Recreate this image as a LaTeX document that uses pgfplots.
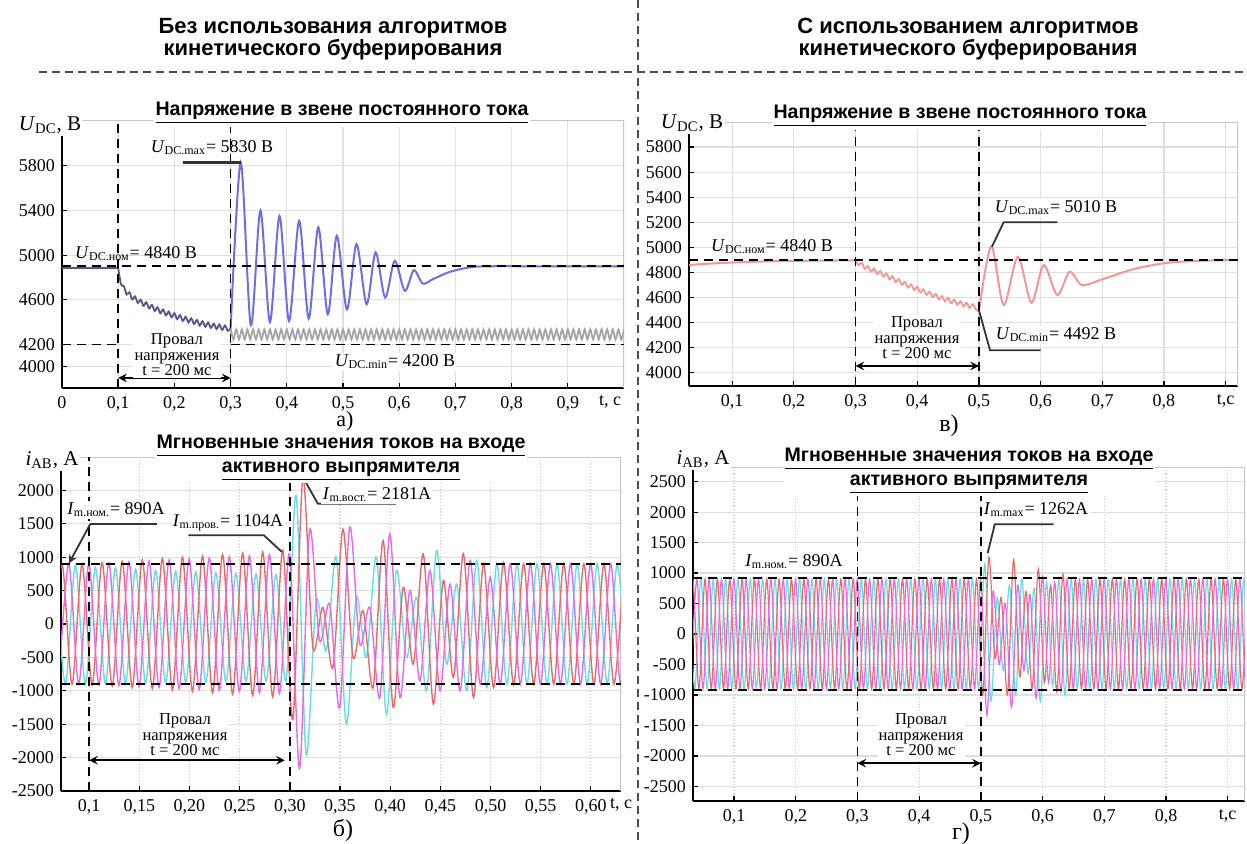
\documentclass[border=0pt]{standalone}
\usepackage{pgfplots}
\pgfplotsset{compat=1.18}
\usepackage{fontspec}
\setmainfont{Liberation Serif}
\newfontfamily\hsans{Liberation Sans}
\definecolor{bluec}{RGB}{110,110,228}
\definecolor{sagc}{RGB}{85,85,140}
\definecolor{greyc}{RGB}{165,165,165}
\definecolor{pinkc}{RGB}{242,150,150}
\definecolor{rc}{RGB}{236,105,105}
\definecolor{mc}{RGB}{232,105,232}
\definecolor{cc}{RGB}{100,222,228}
\newcommand{\dfont}{\fontsize{9}{10}\selectfont}
\newcommand{\pfont}{\fontsize{8.3}{7.8}\selectfont}
\newcommand{\tfont}{\hsans\bfseries\fontsize{9.8}{12}\selectfont}
\tikzset{
  dsh/.style={black, line width=0.8pt, dash pattern=on 4.5pt off 3pt},
  lead/.style={black!80, line width=0.9pt},
  dim/.style={<->, >=stealth, line width=0.9pt},
}
\pgfplotsset{
  panel/.style={
    scale only axis, anchor=south west,
    axis x line*=bottom, axis y line*=left,
    axis line style={black, line width=1.1pt},
    tick style={black, line width=0.6pt}, major tick length=2.5pt, tick align=inside,
    xmajorgrids, ymajorgrids,
    grid style={gray!25, line width=0.6pt},
    ticklabel style={font=\fontsize{9}{9}\selectfont},
    xticklabel style={yshift=-0.5pt},
    every axis plot/.append style={no marks},
  }
}
\begin{document}
\begin{tikzpicture}
\path[use as bounding box] (0,0) rectangle (623.5pt,-421.5pt);

%% ---------------- panel a ----------------
\begin{axis}[panel, at={(31pt,-194pt)}, width=281pt, height=134pt,
  xmin=0, xmax=1, ymin=3810, ymax=6210,
  xtick={0,0.1,0.2,0.3,0.4,0.5,0.6,0.7,0.8,0.9},
  xticklabels={0,{0,1},{0,2},{0,3},{0,4},{0,5},{0,6},{0,7},{0,8},{0,9}},
  ytick={4000,4200,4600,5000,5400,5800},
  yticklabels={4000,4200,4600,5000,5400,5800}]
\draw[gray!45, line width=1pt] (rel axis cs:0,1) -- (rel axis cs:1,1) -- (rel axis cs:1,0);
\addplot[sagc, line width=0.9pt] coordinates {(0,4885)(0.1,4885)};
\addplot[sagc, line width=0.9pt, smooth] coordinates {
(0.100,4885)(0.105,4738)(0.110,4722)(0.115,4648)(0.120,4667)(0.125,4603)(0.130,4630)(0.135,4571)(0.140,4602)(0.145,4546)
(0.150,4578)(0.155,4522)(0.160,4555)(0.165,4500)(0.170,4533)(0.175,4479)(0.180,4513)(0.185,4460)(0.190,4495)(0.195,4443)
(0.200,4479)(0.205,4427)(0.210,4463)(0.215,4411)(0.220,4448)(0.225,4397)(0.230,4434)(0.235,4383)(0.240,4420)(0.245,4370)
(0.250,4408)(0.255,4358)(0.260,4397)(0.265,4348)(0.270,4387)(0.275,4338)(0.280,4378)(0.285,4330)(0.290,4370)(0.295,4323)
(0.300,4345)};
\addplot[greyc, line width=0.9pt, smooth] coordinates {
(0.300,4341)(0.305,4245)(0.310,4335)(0.315,4245)(0.320,4335)(0.325,4245)(0.330,4335)(0.335,4245)(0.340,4335)(0.345,4245)
(0.350,4335)(0.355,4245)(0.360,4335)(0.365,4245)(0.370,4335)(0.375,4245)(0.380,4335)(0.385,4245)(0.390,4335)(0.395,4245)
(0.400,4335)(0.405,4245)(0.410,4335)(0.415,4245)(0.420,4335)(0.425,4245)(0.430,4335)(0.435,4245)(0.440,4335)(0.445,4245)
(0.450,4335)(0.455,4245)(0.460,4335)(0.465,4245)(0.470,4335)(0.475,4245)(0.480,4335)(0.485,4245)(0.490,4335)(0.495,4245)
(0.500,4335)(0.505,4245)(0.510,4335)(0.515,4245)(0.520,4335)(0.525,4245)(0.530,4335)(0.535,4245)(0.540,4335)(0.545,4245)
(0.550,4335)(0.555,4245)(0.560,4335)(0.565,4245)(0.570,4335)(0.575,4245)(0.580,4335)(0.585,4245)(0.590,4335)(0.595,4245)
(0.600,4335)(0.605,4245)(0.610,4335)(0.615,4245)(0.620,4335)(0.625,4245)(0.630,4335)(0.635,4245)(0.640,4335)(0.645,4245)
(0.650,4335)(0.655,4245)(0.660,4335)(0.665,4245)(0.670,4335)(0.675,4245)(0.680,4335)(0.685,4245)(0.690,4335)(0.695,4245)
(0.700,4335)(0.705,4245)(0.710,4335)(0.715,4245)(0.720,4335)(0.725,4245)(0.730,4335)(0.735,4245)(0.740,4335)(0.745,4245)
(0.750,4335)(0.755,4245)(0.760,4335)(0.765,4245)(0.770,4335)(0.775,4245)(0.780,4335)(0.785,4245)(0.790,4335)(0.795,4245)
(0.800,4335)(0.805,4245)(0.810,4335)(0.815,4245)(0.820,4335)(0.825,4245)(0.830,4335)(0.835,4245)(0.840,4335)(0.845,4245)
(0.850,4335)(0.855,4245)(0.860,4335)(0.865,4245)(0.870,4335)(0.875,4245)(0.880,4335)(0.885,4245)(0.890,4335)(0.895,4245)
(0.900,4335)(0.905,4245)(0.910,4335)(0.915,4245)(0.920,4335)(0.925,4245)(0.930,4335)(0.935,4245)(0.940,4335)(0.945,4245)
(0.950,4335)(0.955,4245)(0.960,4335)(0.965,4245)(0.970,4335)(0.975,4245)(0.980,4335)(0.985,4245)(0.990,4335)(0.995,4245)
(1.000,4335)};
\addplot[bluec, line width=1pt, smooth] coordinates {
(0.300,4341)(0.318,5830)(0.336,4371)(0.353,5399)(0.370,4400)(0.387,5351)(0.404,4410)(0.422,5306)(0.439,4431)(0.456,5249)
(0.473,4470)(0.489,5174)(0.507,4512)(0.524,5099)(0.542,4560)(0.558,5024)(0.575,4620)(0.592,4949)(0.610,4680)(0.626,4865)
(0.642,4745)(0.660,4785)(0.690,4850)(0.725,4890)(0.760,4900)(0.850,4900)(1.000,4900)};
\draw[dsh] (axis cs:0,4900) -- (axis cs:1,4900);
\draw[dsh] (axis cs:0,4200) -- (axis cs:0.1,4200);
\draw[dsh] (axis cs:0.3,4200) -- (axis cs:1,4200);
\draw[dsh] (axis cs:0.1,3810) -- (axis cs:0.1,6210);
\draw[dsh] (axis cs:0.3,3810) -- (axis cs:0.3,6210);
\draw[lead, line width=1.2pt] (axis cs:0.215,5830) -- (axis cs:0.318,5830);
\draw[dim] (axis cs:0.1,3900) -- (axis cs:0.3,3900);
\end{axis}

%% ---------------- panel v ----------------
\begin{axis}[panel, at={(344.5pt,-193pt)}, width=274.5pt, height=132pt,
  xmin=0.03, xmax=0.92, ymin=3895, ymax=6000,
  xtick={0.1,0.2,0.3,0.4,0.5,0.6,0.7,0.8,0.9},
  xticklabels={{0,1},{0,2},{0,3},{0,4},{0,5},{0,6},{0,7},{0,8},{t,c}},
  ytick={4000,4200,4400,4600,4800,5000,5200,5400,5600,5800},
  yticklabels={4000,4200,4400,4600,4800,5000,5200,5400,5600,5800}]
\draw[gray!45, line width=1pt] (rel axis cs:0,1) -- (rel axis cs:1,1) -- (rel axis cs:1,0);
\addplot[pinkc, line width=1pt] coordinates {(0.03,4860)(0.06,4870)(0.1,4880)(0.15,4888)(0.2,4893)(0.3,4897)};
\addplot[pinkc, line width=0.9pt, smooth] coordinates {
(0.300,4895)(0.305,4859)(0.310,4878)(0.315,4829)(0.320,4853)(0.325,4807)(0.330,4833)(0.335,4787)(0.340,4813)(0.345,4767)
(0.350,4793)(0.355,4745)(0.360,4770)(0.365,4723)(0.370,4748)(0.375,4701)(0.380,4726)(0.385,4680)(0.390,4706)(0.395,4660)
(0.400,4686)(0.405,4640)(0.410,4666)(0.415,4621)(0.420,4648)(0.425,4603)(0.430,4630)(0.435,4586)(0.440,4614)(0.445,4570)
(0.450,4598)(0.455,4555)(0.460,4584)(0.465,4542)(0.470,4571)(0.475,4529)(0.480,4559)(0.485,4517)(0.490,4548)(0.495,4505)
(0.500,4492)};
\addplot[pinkc, line width=1pt, smooth] coordinates {
(0.500,4492)(0.520,5010)(0.540,4540)(0.563,4925)(0.585,4560)(0.605,4860)(0.627,4620)(0.647,4806)(0.667,4700)(0.700,4746)
(0.750,4826)(0.800,4874)(0.850,4892)(0.920,4900)};
\draw[dsh] (axis cs:0.03,4900) -- (axis cs:0.92,4900);
\draw[dsh] (axis cs:0.3,3895) -- (axis cs:0.3,6000);
\draw[dsh] (axis cs:0.5,3895) -- (axis cs:0.5,6000);
\draw[lead] (axis cs:0.521,5005) -- (axis cs:0.540,5200) -- (axis cs:0.627,5200);
\draw[lead] (axis cs:0.5,4500) -- (axis cs:0.518,4180) -- (axis cs:0.6,4180);
\draw[dim] (axis cs:0.3,4055) -- (axis cs:0.5,4055);
\end{axis}

%% ---------------- panel b ----------------
\begin{axis}[panel, at={(30.5pt,-395.5pt)}, width=280pt, height=167pt,
  xmin=0.072, xmax=0.63, ymin=-2500, ymax=2500,
  xtick={0.1,0.15,0.2,0.25,0.3,0.35,0.4,0.45,0.5,0.55,0.6},
  xticklabels={{0,1},{0,15},{0,20},{0,25},{0,30},{0,35},{0,40},{0,45},{0,50},{0,55},{0,60}},
  ytick={-2500,-2000,-1500,-1000,-500,0,500,1000,1500,2000},
  yticklabels={-2500,-2000,-1500,-1000,-500,0,500,1000,1500,2000},
  x grid style={gray!35, densely dotted, line width=0.6pt}]
\draw[gray!45, line width=1pt] (rel axis cs:0,1) -- (rel axis cs:1,1) -- (rel axis cs:1,0);
\addplot[cc, line width=0.7pt, smooth] coordinates {
(0.0663,880)(0.0763,-900)(0.0863,880)(0.0963,-900)(0.1063,850)(0.1163,-895)(0.1263,840)(0.1363,-890)(0.1463,820)(0.1563,-885)
(0.1663,800)(0.1763,-880)(0.1863,790)(0.1963,-875)(0.2063,780)(0.2163,-870)(0.2263,770)(0.2363,-865)(0.2463,760)(0.2563,-860)
(0.2663,750)(0.2763,-855)(0.2863,740)(0.2963,-850)(0.3063,1925)(0.3163,-1950)(0.3263,350)(0.3363,-400)(0.3463,1000)(0.3563,-1500)
(0.3663,400)(0.3763,-500)(0.3863,1000)(0.3963,-1350)(0.4063,800)(0.4163,-500)(0.4263,400)(0.4363,-1000)(0.4463,1100)(0.4563,-600)
(0.4663,600)(0.4763,-1000)(0.4863,950)(0.4963,-950)(0.5063,900)(0.5163,-900)(0.5263,900)(0.5363,-900)(0.5463,900)(0.5563,-900)
(0.5663,900)(0.5763,-900)(0.5863,900)(0.5963,-900)(0.6063,900)(0.6163,-900)(0.6263,900)(0.6363,-900)};
\addplot[rc, line width=0.7pt, smooth] coordinates {
(0.063,-900)(0.073,900)(0.083,-900)(0.093,900)(0.103,-910)(0.113,920)(0.123,-930)(0.133,940)(0.143,-950)(0.153,960)
(0.163,-970)(0.173,980)(0.183,-990)(0.193,1000)(0.203,-1010)(0.213,1020)(0.223,-1030)(0.233,1040)(0.243,-1050)(0.253,1060)
(0.263,-1070)(0.273,1080)(0.283,-1090)(0.293,1104)(0.303,-1430)(0.313,2181)(0.323,-350)(0.333,250)(0.343,-650)(0.353,1420)
(0.363,-500)(0.373,200)(0.383,-950)(0.393,1250)(0.403,-1250)(0.413,550)(0.423,-600)(0.433,1050)(0.443,-1200)(0.453,650)
(0.463,-800)(0.473,1050)(0.483,-1100)(0.493,900)(0.503,-950)(0.513,920)(0.523,-910)(0.533,900)(0.543,-900)(0.553,900)
(0.563,-900)(0.573,900)(0.583,-900)(0.593,900)(0.603,-900)(0.613,900)(0.623,-900)(0.633,900)};
\addplot[mc, line width=0.7pt, smooth] coordinates {
(0.0697,-900)(0.0797,900)(0.0897,-900)(0.0997,900)(0.1097,-905)(0.1197,915)(0.1297,-920)(0.1397,930)(0.1497,-935)(0.1597,945)
(0.1697,-950)(0.1797,960)(0.1897,-965)(0.1997,975)(0.2097,-980)(0.2197,990)(0.2297,-995)(0.2397,1005)(0.2497,-1010)(0.2597,1020)
(0.2697,-1025)(0.2797,1035)(0.2897,-1040)(0.2997,1050)(0.3097,-2163)(0.3197,1400)(0.3297,-250)(0.3397,300)(0.3497,-1250)(0.3597,1450)
(0.3697,-300)(0.3797,250)(0.3897,-1100)(0.3997,1350)(0.4097,-1100)(0.4197,500)(0.4297,-850)(0.4397,800)(0.4497,-1000)(0.4597,600)
(0.4697,-1000)(0.4797,950)(0.4897,-900)(0.4997,700)(0.5097,-900)(0.5197,900)(0.5297,-900)(0.5397,900)(0.5497,-900)(0.5597,900)
(0.5697,-900)(0.5797,900)(0.5897,-900)(0.5997,900)(0.6097,-900)(0.6197,900)(0.6297,-900)(0.6397,900)};
\draw[dsh] (axis cs:0.072,900) -- (axis cs:0.63,900);
\draw[dsh] (axis cs:0.072,-900) -- (axis cs:0.63,-900);
\draw[dsh] (axis cs:0.1,-2500) -- (axis cs:0.1,2500);
\draw[dsh] (axis cs:0.3,-2500) -- (axis cs:0.3,2500);
\draw[lead] (axis cs:0.168,1500) -- (axis cs:0.1013,1500);
\draw[lead, ->, >=stealth] (axis cs:0.1013,1500) -- (axis cs:0.080,910);
\draw[lead] (axis cs:0.199,1330) -- (axis cs:0.274,1330) -- (axis cs:0.292,1080);
\draw[lead] (axis cs:0.313,2200) -- (axis cs:0.328,1800) -- (axis cs:0.406,1800);
\draw[dim] (axis cs:0.1,-2040) -- (axis cs:0.295,-2040);
\end{axis}

%% ---------------- panel g ----------------
\begin{axis}[panel, at={(346.5pt,-400.5pt)}, width=276pt, height=167pt,
  xmin=0.0335, xmax=0.928, ymin=-2740, ymax=2740,
  xtick={0.1,0.2,0.3,0.4,0.5,0.6,0.7,0.8,0.9},
  xticklabels={{0,1},{0,2},{0,3},{0,4},{0,5},{0,6},{0,7},{0,8},{t,c}},
  ytick={-2500,-2000,-1500,-1000,-500,0,500,1000,1500,2000,2500},
  yticklabels={-2500,-2000,-1500,-1000,-500,0,500,1000,1500,2000,2500},
  x grid style={gray!35, densely dotted, line width=0.6pt}]
\draw[gray!45, line width=1pt] (rel axis cs:0,1) -- (rel axis cs:1,1) -- (rel axis cs:1,0);
\addplot[cc, line width=0.6pt, smooth] coordinates {
(0.0263,900)(0.0363,-900)(0.0463,900)(0.0563,-900)(0.0663,900)(0.0763,-900)(0.0863,900)(0.0963,-900)(0.1063,900)(0.1163,-900)
(0.1263,900)(0.1363,-900)(0.1463,900)(0.1563,-900)(0.1663,900)(0.1763,-900)(0.1863,900)(0.1963,-900)(0.2063,900)(0.2163,-900)
(0.2263,900)(0.2363,-900)(0.2463,900)(0.2563,-900)(0.2663,900)(0.2763,-900)(0.2863,900)(0.2963,-900)(0.3063,900)(0.3163,-900)
(0.3263,900)(0.3363,-900)(0.3463,900)(0.3563,-900)(0.3663,900)(0.3763,-900)(0.3863,900)(0.3963,-900)(0.4063,900)(0.4163,-900)
(0.4263,900)(0.4363,-900)(0.4463,900)(0.4563,-900)(0.4663,900)(0.4763,-900)(0.4863,900)(0.4963,-900)(0.5063,1150)(0.5163,-1100)
(0.5263,600)(0.5363,-600)(0.5463,800)(0.5563,-1000)(0.5663,900)(0.5763,-650)(0.5863,750)(0.5963,-1100)(0.6063,850)(0.6163,-850)
(0.6263,900)(0.6363,-1000)(0.6463,900)(0.6563,-900)(0.6663,900)(0.6763,-900)(0.6863,900)(0.6963,-900)(0.7063,900)(0.7163,-900)
(0.7263,900)(0.7363,-900)(0.7463,900)(0.7563,-900)(0.7663,900)(0.7763,-900)(0.7863,900)(0.7963,-900)(0.8063,900)(0.8163,-900)
(0.8263,900)(0.8363,-900)(0.8463,900)(0.8563,-900)(0.8663,900)(0.8763,-900)(0.8863,900)(0.8963,-900)(0.9063,900)(0.9163,-900)
(0.9263,900)(0.9363,-900)};
\addplot[rc, line width=0.6pt, smooth] coordinates {
(0.023,-900)(0.033,900)(0.043,-900)(0.053,900)(0.063,-900)(0.073,900)(0.083,-900)(0.093,900)(0.103,-900)(0.113,900)
(0.123,-900)(0.133,900)(0.143,-900)(0.153,900)(0.163,-900)(0.173,900)(0.183,-900)(0.193,900)(0.203,-900)(0.213,900)
(0.223,-900)(0.233,900)(0.243,-900)(0.253,900)(0.263,-900)(0.273,900)(0.283,-900)(0.293,900)(0.303,-900)(0.313,900)
(0.323,-900)(0.333,900)(0.343,-900)(0.353,900)(0.363,-900)(0.373,900)(0.383,-900)(0.393,900)(0.403,-900)(0.413,900)
(0.423,-900)(0.433,900)(0.443,-900)(0.453,900)(0.463,-900)(0.473,900)(0.483,-900)(0.493,900)(0.503,-1000)(0.513,1262)
(0.523,-400)(0.533,600)(0.543,-1000)(0.553,1220)(0.563,-700)(0.573,700)(0.583,-900)(0.593,1070)(0.603,-800)(0.613,800)
(0.623,-950)(0.633,980)(0.643,-900)(0.653,900)(0.663,-900)(0.673,900)(0.683,-900)(0.693,900)(0.703,-900)(0.713,900)
(0.723,-900)(0.733,900)(0.743,-900)(0.753,900)(0.763,-900)(0.773,900)(0.783,-900)(0.793,900)(0.803,-900)(0.813,900)
(0.823,-900)(0.833,900)(0.843,-900)(0.853,900)(0.863,-900)(0.873,900)(0.883,-900)(0.893,900)(0.903,-900)(0.913,900)
(0.923,-900)(0.933,900)};
\addplot[mc, line width=0.6pt, smooth] coordinates {
(0.0297,-900)(0.0397,900)(0.0497,-900)(0.0597,900)(0.0697,-900)(0.0797,900)(0.0897,-900)(0.0997,900)(0.1097,-900)(0.1197,900)
(0.1297,-900)(0.1397,900)(0.1497,-900)(0.1597,900)(0.1697,-900)(0.1797,900)(0.1897,-900)(0.1997,900)(0.2097,-900)(0.2197,900)
(0.2297,-900)(0.2397,900)(0.2497,-900)(0.2597,900)(0.2697,-900)(0.2797,900)(0.2897,-900)(0.2997,900)(0.3097,-900)(0.3197,900)
(0.3297,-900)(0.3397,900)(0.3497,-900)(0.3597,900)(0.3697,-900)(0.3797,900)(0.3897,-900)(0.3997,900)(0.4097,-900)(0.4197,900)
(0.4297,-900)(0.4397,900)(0.4497,-900)(0.4597,900)(0.4697,-900)(0.4797,900)(0.4897,-900)(0.4997,900)(0.5097,-1330)(0.5197,700)
(0.5297,-500)(0.5397,500)(0.5497,-1200)(0.5597,800)(0.5697,-600)(0.5797,650)(0.5897,-1050)(0.5997,950)(0.6097,-800)(0.6197,850)
(0.6297,-950)(0.6397,900)(0.6497,-900)(0.6597,900)(0.6697,-900)(0.6797,900)(0.6897,-900)(0.6997,900)(0.7097,-900)(0.7197,900)
(0.7297,-900)(0.7397,900)(0.7497,-900)(0.7597,900)(0.7697,-900)(0.7797,900)(0.7897,-900)(0.7997,900)(0.8097,-900)(0.8197,900)
(0.8297,-900)(0.8397,900)(0.8497,-900)(0.8597,900)(0.8697,-900)(0.8797,900)(0.8897,-900)(0.8997,900)(0.9097,-900)(0.9197,900)
(0.9297,-900)(0.9397,900)};
\draw[dsh] (axis cs:0.0335,920) -- (axis cs:0.928,920);
\draw[dsh] (axis cs:0.0335,-920) -- (axis cs:0.928,-920);
\draw[dsh] (axis cs:0.3,-2740) -- (axis cs:0.3,2740);
\draw[dsh] (axis cs:0.5,-2740) -- (axis cs:0.5,2740);
\draw[lead] (axis cs:0.511,1325) -- (axis cs:0.5225,1800) -- (axis cs:0.618,1800);
\draw[dim] (axis cs:0.3,-2120) -- (axis cs:0.5,-2120);
\end{axis}

%% ---------------- texts in image-pixel coordinates ----------------
\begin{scope}[x=0.5pt, y=-0.5pt]
\draw[gray!60!black, line width=0.8pt, dash pattern=on 4pt off 2.5pt] (39,72) -- (1247,72);
\draw[gray!60!black, line width=0.8pt, dash pattern=on 4pt off 2.5pt] (638,0) -- (638,843);
\node[font=\hsans\bfseries\fontsize{11}{11}\selectfont, align=center] at (333,39) {Без использования алгоритмов\\кинетического буферирования};
\node[font=\hsans\bfseries\fontsize{11}{11}\selectfont, align=center] at (968,39) {С использованием алгоритмов\\кинетического буферирования};

\node[font=\tfont, fill=white, inner sep=1.5pt] at (342,113) {\underline{Напряжение в звене постоянного тока}};
\node[font=\tfont, fill=white, inner sep=1.5pt] at (960,116) {\underline{Напряжение в звене постоянного тока}};
\node[font=\tfont, fill=white, inner sep=1pt, align=center] at (341,458) {\underline{Мгновенные значения токов на входе}\\\underline{активного выпрямителя}};
\node[font=\tfont, fill=white, inner sep=1pt, align=center] at (969,471) {\underline{Мгновенные значения токов на входе}\\\underline{активного выпрямителя}};

\node[font=\fontsize{10.5}{12}\selectfont, fill=white, inner sep=1pt] at (50,125) {\textit{U}\textsubscript{DC}, В};
\node[font=\fontsize{10.5}{12}\selectfont, fill=white, inner sep=1pt] at (692,123) {\textit{U}\textsubscript{DC}, В};
\node[font=\fontsize{10.5}{12}\selectfont, fill=white, inner sep=1pt] at (52,460) {\textit{i}\textsubscript{AB}, А};
\node[font=\fontsize{10.5}{12}\selectfont, fill=white, inner sep=1pt] at (703,459) {\textit{i}\textsubscript{AB}, А};

\node[font=\dfont, inner sep=1pt] at (212,148) {\textit{U}\textsubscript{DC.max}= 5830 В};
\node[font=\dfont, inner sep=1pt] at (136,254) {\textit{U}\textsubscript{DC.ном}= 4840 В};
\node[font=\dfont, fill=white, inner sep=1pt] at (395,362) {\textit{U}\textsubscript{DC.min}= 4200 В};
\node[font=\dfont, inner sep=1pt] at (772,247) {\textit{U}\textsubscript{DC.ном}= 4840 В};
\node[font=\dfont, fill=white, inner sep=1pt] at (1056,208) {\textit{U}\textsubscript{DC.max}= 5010 В};
\node[font=\dfont, fill=white, inner sep=1pt] at (1056,335) {\textit{U}\textsubscript{DC.min}= 4492 В};
\node[font=\dfont, fill=white, inner sep=1pt] at (116,510) {\textit{I}\textsubscript{m.ном.}= 890А};
\node[font=\dfont, fill=white, inner sep=1pt] at (228,523) {\textit{I}\textsubscript{m.пров.}= 1104А};
\node[font=\dfont, fill=white, inner sep=1pt] at (377,495) {\textit{I}\textsubscript{m.вост.}= 2181А};
\node[font=\dfont, fill=white, inner sep=1pt] at (794,562) {\textit{I}\textsubscript{m.ном.}= 890А};
\node[font=\dfont, fill=white, inner sep=1pt] at (1036,510) {\textit{I}\textsubscript{m.max}= 1262А};

\node[font=\pfont, fill=white, inner sep=1pt, align=center] at (177,355) {Провал\\напряжения\\t = 200 мс};
\node[font=\pfont, fill=white, inner sep=1pt, align=center] at (917,338) {Провал\\напряжения\\t = 200 мс};
\node[font=\pfont, fill=white, inner sep=1pt, align=center] at (185,735) {Провал\\напряжения\\t = 200 мс};
\node[font=\pfont, fill=white, inner sep=1pt, align=center] at (921,735) {Провал\\напряжения\\t = 200 мс};

\node[font=\fontsize{9}{9}\selectfont] at (610,402) {t, с};
\node[font=\fontsize{9}{9}\selectfont] at (621,805) {t, с};

\node[font=\fontsize{11}{11}\selectfont, inner sep=0pt] at (345,421) {а)};
\node[font=\fontsize{12}{12}\selectfont, inner sep=0pt] at (949,426) {в)};
\node[font=\fontsize{12}{12}\selectfont, inner sep=0pt] at (343,830) {б)};
\node[font=\fontsize{12}{12}\selectfont, inner sep=0pt] at (961,834) {г)};
\end{scope}
\end{tikzpicture}
\end{document}
